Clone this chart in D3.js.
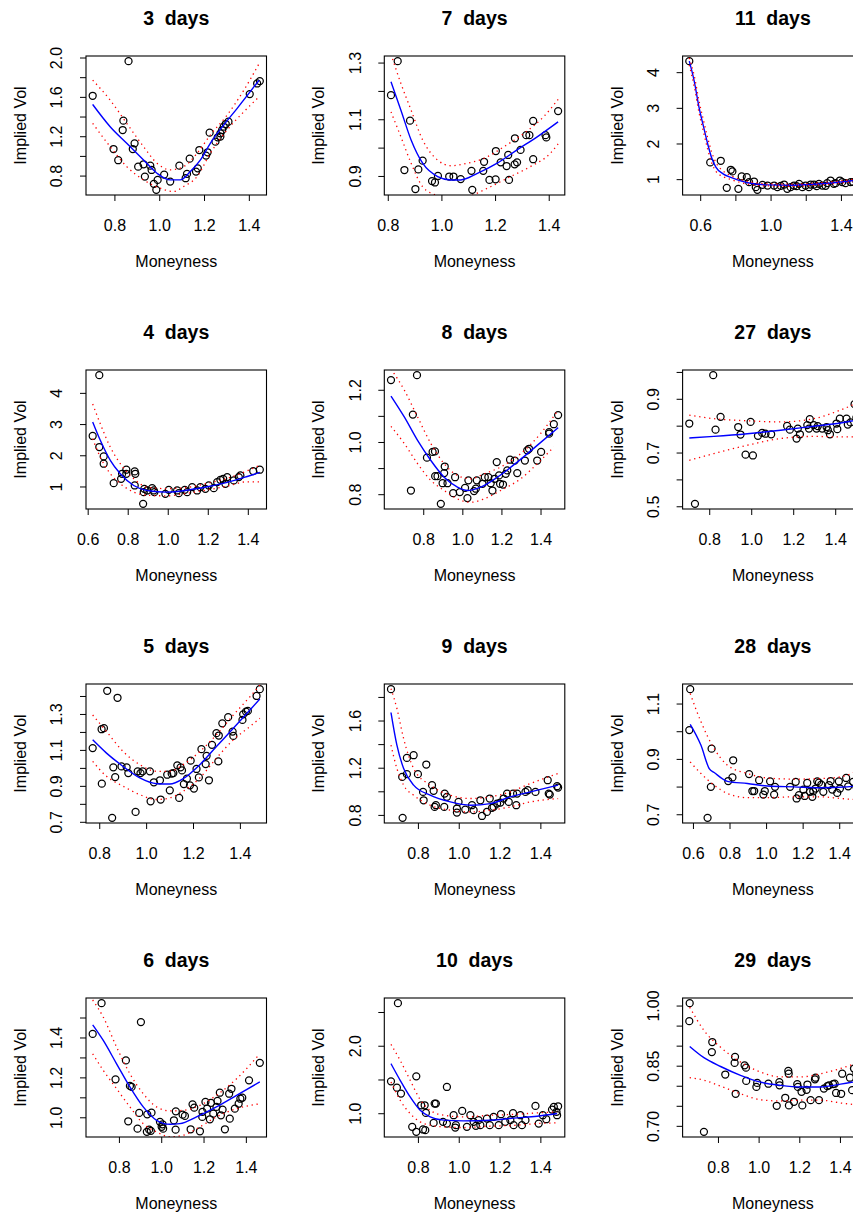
<!DOCTYPE html>
<html>
<head>
<meta charset="utf-8">
<script src="https://cdn.jsdelivr.net/npm/d3@7"></script>
<style>
  body { margin: 0; background: #fff; }
  svg { display: block; }
</style>
</head>
<body>
<script>
// observed implied vols: [moneyness, vol]
const day3Pts = [[0.703,1.611],[0.863,1.963],[0.796,1.070],[0.817,0.956],[0.840,1.358],[0.837,1.263],[0.890,1.128],[0.882,1.070],[0.906,0.891],[0.930,0.915],[0.936,0.790],[0.960,0.901],[0.966,0.857],[0.976,0.716],[0.987,0.655],[0.993,0.756],[1.022,0.810],[1.049,0.739],[1.090,0.901],[1.118,0.773],[1.124,0.817],[1.136,0.972],[1.164,0.841],[1.172,0.874],[1.179,1.060],[1.209,1.003],[1.216,1.037],[1.225,1.236],[1.251,1.145],[1.261,1.189],[1.273,1.229],[1.273,1.196],[1.281,1.263],[1.288,1.297],[1.297,1.324],[1.309,1.348],[1.404,1.628],[1.437,1.736],[1.449,1.760]];
const day3Fit = [[0.703,1.523],[0.781,1.297],[0.855,1.128],[0.930,0.959],[0.990,0.824],[1.049,0.756],[1.094,0.756],[1.139,0.841],[1.184,0.959],[1.228,1.128],[1.288,1.314],[1.348,1.483],[1.446,1.770]];
const day3Up = [[0.703,1.770],[0.781,1.567],[0.855,1.331],[0.930,1.094],[0.990,0.925],[1.049,0.858],[1.109,0.891],[1.169,1.027],[1.228,1.212],[1.303,1.415],[1.378,1.669],[1.446,1.939]];
const day3Lo = [[0.703,1.331],[0.781,1.094],[0.855,0.891],[0.930,0.756],[1.004,0.672],[1.064,0.638],[1.109,0.689],[1.169,0.790],[1.228,1.027],[1.303,1.263],[1.378,1.449],[1.446,1.601]];

const day7Pts = [[0.812,1.185],[0.837,1.305],[0.862,0.921],[0.883,1.095],[0.903,0.854],[0.914,0.923],[0.930,0.954],[0.965,0.882],[0.976,0.877],[0.987,0.900],[1.029,0.898],[1.045,0.898],[1.072,0.889],[1.112,0.918],[1.115,0.851],[1.159,0.950],[1.156,0.918],[1.179,0.886],[1.202,0.888],[1.203,0.988],[1.221,0.948],[1.243,0.935],[1.252,0.886],[1.249,0.974],[1.273,0.941],[1.282,0.948],[1.274,1.033],[1.295,0.992],[1.316,1.044],[1.328,1.044],[1.342,1.094],[1.342,0.959],[1.388,1.044],[1.391,1.036],[1.435,1.129]];
const day7Fit = [[0.812,1.232],[0.849,1.132],[0.887,1.027],[0.930,0.945],[0.986,0.898],[1.035,0.886],[1.072,0.886],[1.134,0.909],[1.208,0.945],[1.282,0.992],[1.357,1.038],[1.435,1.091]];
const day7Up = [[0.812,1.330],[0.849,1.226],[0.887,1.132],[0.930,1.027],[0.986,0.956],[1.035,0.936],[1.097,0.945],[1.159,0.962],[1.233,1.003],[1.307,1.050],[1.381,1.109],[1.435,1.170]];
const day7Lo = [[0.812,1.126],[0.849,1.038],[0.887,0.945],[0.930,0.862],[0.986,0.830],[1.047,0.815],[1.109,0.830],[1.183,0.862],[1.258,0.898],[1.332,0.933],[1.406,0.980],[1.435,1.013]];

const day11Pts = [[0.538,4.309],[0.657,1.469],[0.717,1.516],[0.751,0.756],[0.774,1.263],[0.783,1.216],[0.817,0.728],[0.836,1.075],[0.865,1.056],[0.878,0.916],[0.906,0.934],[0.916,0.775],[0.925,0.700],[0.954,0.841],[0.983,0.822],[1.020,0.822],[1.039,0.775],[1.058,0.812],[1.077,0.850],[1.095,0.728],[1.114,0.775],[1.133,0.822],[1.148,0.803],[1.162,0.869],[1.181,0.775],[1.199,0.822],[1.218,0.775],[1.228,0.850],[1.247,0.850],[1.262,0.803],[1.275,0.869],[1.294,0.822],[1.313,0.812],[1.322,0.888],[1.341,0.962],[1.360,0.869],[1.370,0.888],[1.394,0.962],[1.407,0.916],[1.426,0.888],[1.455,0.916],[1.470,0.920],[1.488,0.950]];
const day11Fit = [[0.538,4.309],[0.566,3.75],[0.594,3.0],[0.620,2.45],[0.642,2.0],[0.665,1.6],[0.689,1.34],[0.730,1.15],[0.774,1.05],[0.869,0.90],[0.982,0.84],[1.133,0.83],[1.284,0.87],[1.398,0.92],[1.525,1.00]];
const day11Up = [[0.538,4.40],[0.566,3.90],[0.594,3.18],[0.620,2.62],[0.642,2.17],[0.665,1.76],[0.689,1.47],[0.730,1.23],[0.774,1.10],[0.869,0.94],[0.982,0.87],[1.133,0.86],[1.284,0.90],[1.398,0.95],[1.525,1.04]];
const day11Lo = [[0.538,4.20],[0.566,3.60],[0.594,2.85],[0.620,2.30],[0.642,1.85],[0.665,1.46],[0.689,1.22],[0.730,1.07],[0.774,0.99],[0.869,0.86],[0.982,0.81],[1.133,0.80],[1.284,0.84],[1.398,0.89],[1.525,0.96]];

const day4Pts = [[0.625,2.618],[0.658,4.568],[0.658,2.264],[0.680,1.964],[0.680,1.729],[0.730,1.107],[0.767,1.246],[0.772,1.407],[0.793,1.536],[0.793,1.407],[0.835,1.032],[0.835,1.482],[0.838,1.407],[0.877,0.443],[0.880,0.818],[0.883,0.925],[0.897,0.871],[0.922,0.946],[0.930,0.871],[0.933,0.818],[0.988,0.764],[1.005,0.893],[1.047,0.871],[1.055,0.786],[1.085,0.893],[1.097,0.818],[1.122,0.979],[1.147,0.871],[1.163,0.979],[1.188,0.925],[1.205,1.032],[1.230,0.946],[1.247,1.139],[1.263,1.214],[1.277,1.246],[1.288,1.086],[1.297,1.300],[1.330,1.193],[1.355,1.300],[1.363,1.354],[1.427,1.493],[1.460,1.536]];
const day4Fit = [[0.625,3.068],[0.663,2.479],[0.713,1.836],[0.763,1.407],[0.830,1.032],[0.897,0.871],[0.997,0.82],[1.097,0.88],[1.197,0.99],[1.297,1.13],[1.397,1.32],[1.460,1.45]];
const day4Up = [[0.625,3.64],[0.663,3.01],[0.713,2.26],[0.763,1.73],[0.830,1.25],[0.897,0.98],[0.997,0.93],[1.097,0.97],[1.197,1.10],[1.297,1.26],[1.397,1.50],[1.460,1.68]];
const day4Lo = [[0.625,2.53],[0.663,1.94],[0.713,1.41],[0.763,1.09],[0.830,0.82],[0.897,0.72],[0.997,0.70],[1.097,0.78],[1.197,0.89],[1.297,1.01],[1.397,1.15],[1.460,1.15]];

const day8Pts = [[0.635,1.237],[0.768,1.256],[0.737,0.814],[0.747,1.105],[0.819,0.940],[0.848,0.962],[0.860,0.964],[0.861,0.869],[0.873,0.869],[0.890,0.763],[0.899,0.842],[0.907,0.881],[0.910,0.906],[0.924,0.842],[0.953,0.804],[0.963,0.865],[0.987,0.808],[1.014,0.824],[1.026,0.785],[1.031,0.853],[1.060,0.812],[1.069,0.821],[1.074,0.853],[1.103,0.840],[1.115,0.865],[1.133,0.865],[1.145,0.842],[1.154,0.814],[1.165,0.859],[1.176,0.923],[1.188,0.872],[1.193,0.840],[1.208,0.837],[1.222,0.878],[1.230,0.891],[1.244,0.932],[1.268,0.929],[1.281,0.881],[1.320,0.929],[1.332,0.968],[1.341,0.974],[1.383,0.929],[1.403,0.962],[1.444,1.032],[1.444,1.038],[1.468,1.068],[1.490,1.103]];
const day8Fit = [[0.635,1.176],[0.703,1.096],[0.771,1.006],[0.839,0.929],[0.907,0.865],[0.975,0.827],[1.026,0.814],[1.094,0.827],[1.179,0.865],[1.281,0.923],[1.383,0.987],[1.490,1.055]];
const day8Up = [[0.635,1.28],[0.703,1.199],[0.771,1.096],[0.839,0.994],[0.907,0.917],[0.975,0.872],[1.043,0.859],[1.111,0.878],[1.196,0.904],[1.298,0.955],[1.400,1.032],[1.490,1.122]];
const day8Lo = [[0.635,1.060],[0.703,0.994],[0.771,0.917],[0.839,0.853],[0.907,0.814],[0.975,0.782],[1.043,0.769],[1.111,0.782],[1.196,0.814],[1.298,0.859],[1.400,0.929],[1.468,0.981]];

const day27Pts = [[0.705,0.808],[0.732,0.509],[0.819,0.988],[0.830,0.785],[0.854,0.833],[0.938,0.795],[0.949,0.767],[0.973,0.692],[0.997,0.814],[1.008,0.689],[1.032,0.762],[1.052,0.773],[1.068,0.770],[1.095,0.768],[1.171,0.799],[1.184,0.785],[1.216,0.752],[1.222,0.789],[1.232,0.768],[1.267,0.802],[1.279,0.824],[1.275,0.789],[1.298,0.802],[1.311,0.789],[1.317,0.798],[1.338,0.789],[1.359,0.795],[1.365,0.783],[1.375,0.768],[1.406,0.808],[1.410,0.787],[1.422,0.826],[1.454,0.826],[1.460,0.804],[1.473,0.812],[1.492,0.880],[1.501,0.830]];
const day27Fit = [[0.705,0.754],[0.822,0.760],[0.981,0.770],[1.140,0.783],[1.298,0.798],[1.425,0.810],[1.532,0.826]];
const day27Up = [[0.705,0.839],[0.822,0.826],[0.981,0.818],[1.140,0.814],[1.298,0.826],[1.425,0.858],[1.532,0.895]];
const day27Lo = [[0.705,0.671],[0.822,0.696],[0.981,0.727],[1.140,0.752],[1.298,0.760],[1.425,0.758],[1.532,0.758]];

const day5Pts = [[0.772,1.110],[0.811,0.912],[0.810,1.215],[0.820,1.221],[0.834,1.429],[0.855,0.722],[0.860,1.003],[0.868,0.949],[0.878,1.390],[0.895,1.008],[0.917,1.003],[0.924,0.971],[0.955,0.755],[0.964,0.981],[0.976,0.971],[0.985,0.981],[1.016,0.981],[1.019,0.814],[1.033,0.920],[1.059,0.931],[1.062,0.824],[1.090,0.962],[1.101,0.875],[1.109,0.968],[1.116,0.971],[1.133,1.014],[1.141,0.833],[1.147,1.003],[1.153,0.986],[1.161,0.910],[1.174,0.940],[1.187,0.903],[1.190,1.040],[1.204,0.885],[1.215,0.994],[1.225,0.947],[1.236,1.104],[1.254,1.021],[1.258,1.067],[1.268,0.931],[1.281,1.128],[1.300,1.193],[1.308,1.036],[1.310,1.180],[1.325,1.248],[1.350,1.282],[1.369,1.202],[1.372,1.178],[1.411,1.267],[1.414,1.298],[1.426,1.313],[1.434,1.317],[1.471,1.400],[1.485,1.438]];
const day5Fit = [[0.772,1.156],[0.831,1.082],[0.902,1.008],[0.973,0.944],[1.045,0.912],[1.101,0.910],[1.158,0.940],[1.229,1.018],[1.300,1.119],[1.372,1.220],[1.443,1.322],[1.485,1.383]];
const day5Up = [[0.772,1.294],[0.831,1.202],[0.902,1.091],[0.973,1.018],[1.045,0.981],[1.101,0.981],[1.158,1.018],[1.229,1.091],[1.300,1.184],[1.372,1.294],[1.443,1.396],[1.485,1.46]];
const day5Lo = [[0.772,1.036],[0.831,0.953],[0.902,0.898],[0.973,0.851],[1.045,0.824],[1.101,0.833],[1.158,0.870],[1.229,0.944],[1.300,1.054],[1.372,1.156],[1.443,1.230],[1.485,1.276]];

const day9Pts = [[0.668,1.866],[0.725,0.775],[0.723,1.122],[0.746,1.283],[0.746,1.145],[0.779,1.306],[0.800,1.145],[0.825,0.995],[0.828,0.924],[0.841,1.227],[0.869,1.052],[0.877,1.004],[0.882,0.868],[0.888,0.882],[0.929,0.868],[0.931,0.981],[0.942,0.953],[0.991,0.854],[0.991,0.820],[0.999,0.910],[1.032,0.845],[1.065,0.882],[1.073,0.840],[1.106,0.924],[1.114,0.791],[1.138,0.825],[1.152,0.939],[1.163,0.859],[1.171,0.868],[1.188,0.896],[1.204,0.905],[1.220,0.939],[1.237,0.981],[1.245,0.910],[1.266,0.981],[1.282,0.882],[1.286,0.981],[1.327,0.995],[1.338,1.009],[1.376,0.995],[1.436,1.094],[1.441,0.981],[1.446,0.972],[1.482,1.043],[1.487,1.032]];
const day9Fit = [[0.668,1.668],[0.697,1.391],[0.730,1.193],[0.779,1.052],[0.860,0.967],[0.959,0.910],[1.057,0.882],[1.155,0.896],[1.253,0.953],[1.351,0.995],[1.487,1.052]];
const day9Up = [[0.668,1.87],[0.697,1.702],[0.730,1.447],[0.779,1.193],[0.860,1.052],[0.959,0.967],[1.057,0.939],[1.155,0.953],[1.253,0.995],[1.351,1.066],[1.487,1.151]];
const day9Lo = [[0.668,1.391],[0.697,1.193],[0.730,1.052],[0.779,0.967],[0.860,0.882],[0.959,0.840],[1.057,0.825],[1.155,0.840],[1.253,0.868],[1.351,0.910],[1.487,0.939]];

const day28Pts = [[0.585,1.152],[0.580,1.004],[0.702,0.937],[0.680,0.687],[0.698,0.799],[0.793,0.820],[0.816,0.833],[0.820,0.895],[0.907,0.845],[0.925,0.784],[0.935,0.784],[0.962,0.823],[0.985,0.771],[0.993,0.784],[1.022,0.819],[1.044,0.771],[1.049,0.799],[1.131,0.799],[1.162,0.817],[1.167,0.757],[1.180,0.769],[1.204,0.789],[1.211,0.766],[1.225,0.813],[1.240,0.781],[1.253,0.763],[1.258,0.783],[1.271,0.793],[1.280,0.819],[1.289,0.814],[1.302,0.807],[1.313,0.781],[1.344,0.805],[1.353,0.820],[1.362,0.789],[1.389,0.777],[1.398,0.819],[1.404,0.793],[1.438,0.831],[1.449,0.801],[1.476,0.817],[1.494,0.800]];
const day28Fit = [[0.585,1.025],[0.644,0.949],[0.689,0.865],[0.716,0.851],[0.789,0.819],[0.898,0.811],[1.007,0.802],[1.153,0.799],[1.298,0.796],[1.444,0.799],[1.529,0.805]];
const day28Up = [[0.585,1.136],[0.644,1.034],[0.716,0.937],[0.789,0.877],[0.898,0.847],[1.007,0.831],[1.153,0.827],[1.298,0.829],[1.407,0.835],[1.529,0.865]];
const day28Lo = [[0.585,0.889],[0.644,0.847],[0.716,0.805],[0.789,0.775],[0.898,0.760],[1.007,0.760],[1.153,0.763],[1.298,0.763],[1.407,0.757],[1.529,0.751]];

const day6Pts = [[0.676,1.418],[0.718,1.572],[0.784,1.190],[0.833,1.285],[0.844,0.980],[0.852,1.157],[0.860,1.152],[0.888,0.943],[0.896,1.022],[0.904,1.477],[0.934,1.015],[0.932,0.927],[0.943,0.938],[0.951,0.932],[0.954,1.023],[0.994,0.977],[1.002,0.952],[1.006,0.965],[1.009,0.943],[1.060,0.985],[1.068,0.938],[1.069,1.030],[1.101,1.013],[1.112,1.007],[1.139,0.940],[1.148,1.065],[1.156,1.048],[1.183,0.930],[1.195,1.027],[1.194,1.002],[1.209,1.077],[1.217,1.043],[1.230,0.990],[1.235,1.072],[1.246,1.018],[1.261,1.052],[1.266,1.082],[1.277,1.123],[1.282,1.010],[1.290,1.038],[1.301,0.940],[1.321,1.118],[1.324,0.993],[1.332,1.143],[1.348,1.043],[1.366,1.068],[1.374,1.093],[1.383,1.098],[1.415,1.185],[1.466,1.273]];
const day6Fit = [[0.676,1.463],[0.726,1.385],[0.789,1.268],[0.852,1.152],[0.915,1.052],[0.978,0.985],[1.041,0.965],[1.088,0.968],[1.167,1.002],[1.261,1.052],[1.356,1.110],[1.466,1.177]];
const day6Up = [[0.676,1.588],[0.726,1.502],[0.789,1.352],[0.852,1.218],[0.915,1.118],[0.978,1.052],[1.041,1.032],[1.104,1.035],[1.183,1.060],[1.261,1.110],[1.356,1.193],[1.466,1.318]];
const day6Lo = [[0.676,1.318],[0.726,1.235],[0.789,1.143],[0.852,1.052],[0.915,0.968],[0.978,0.927],[1.041,0.902],[1.104,0.910],[1.183,0.952],[1.261,1.002],[1.356,1.043],[1.466,1.068]];

const day10Pts = [[0.668,1.473],[0.702,2.631],[0.697,1.379],[0.717,1.291],[0.772,0.798],[0.792,1.547],[0.792,0.724],[0.816,1.118],[0.825,0.759],[0.836,0.749],[0.833,1.118],[0.839,1.005],[0.877,0.857],[0.882,1.143],[0.888,1.143],[0.923,0.872],[0.942,1.389],[0.942,0.847],[0.975,0.970],[0.983,0.788],[0.986,0.823],[1.017,1.034],[1.040,0.798],[1.057,0.970],[1.073,0.872],[1.084,0.813],[1.097,0.897],[1.106,0.823],[1.138,0.921],[1.152,0.823],[1.171,0.946],[1.196,0.823],[1.207,0.985],[1.228,0.872],[1.253,0.897],[1.266,1.000],[1.269,0.823],[1.302,0.970],[1.310,0.823],[1.327,0.897],[1.376,1.108],[1.392,0.847],[1.412,0.970],[1.429,0.911],[1.457,1.054],[1.466,1.094],[1.482,0.970],[1.487,1.103],[1.479,1.020]];
const day10Fit = [[0.668,1.734],[0.713,1.488],[0.762,1.241],[0.811,1.044],[0.860,0.946],[0.926,0.897],[1.024,0.887],[1.155,0.897],[1.286,0.931],[1.384,0.956],[1.482,0.995]];
const day10Up = [[0.668,2.02],[0.713,1.783],[0.762,1.488],[0.811,1.202],[0.860,1.044],[0.926,0.970],[1.024,0.946],[1.155,0.970],[1.286,0.985],[1.384,1.005],[1.482,1.020]];
const day10Lo = [[0.668,1.463],[0.713,1.192],[0.762,0.995],[0.811,0.872],[0.860,0.823],[0.926,0.798],[1.024,0.788],[1.155,0.808],[1.286,0.823],[1.384,0.847],[1.482,0.857]];

const day29Pts = [[0.661,1.006],[0.659,0.961],[0.731,0.685],[0.772,0.909],[0.770,0.884],[0.836,0.828],[0.884,0.872],[0.882,0.857],[0.887,0.780],[0.931,0.851],[0.938,0.845],[0.939,0.812],[0.989,0.797],[0.993,0.807],[1.048,0.805],[1.089,0.750],[1.102,0.809],[1.103,0.801],[1.131,0.770],[1.146,0.837],[1.148,0.830],[1.149,0.751],[1.174,0.760],[1.190,0.804],[1.193,0.797],[1.211,0.785],[1.215,0.751],[1.236,0.790],[1.240,0.803],[1.256,0.764],[1.277,0.816],[1.280,0.820],[1.297,0.764],[1.321,0.793],[1.338,0.799],[1.346,0.801],[1.366,0.804],[1.374,0.805],[1.381,0.782],[1.406,0.780],[1.411,0.830],[1.449,0.820],[1.460,0.789],[1.469,0.843],[1.481,0.830]];
const day29Fit = [[0.661,0.898],[0.731,0.870],[0.813,0.848],[0.911,0.826],[1.010,0.809],[1.108,0.801],[1.207,0.797],[1.305,0.797],[1.403,0.804],[1.513,0.814]];
const day29Up = [[0.661,0.996],[0.731,0.938],[0.813,0.896],[0.911,0.859],[1.010,0.834],[1.108,0.822],[1.207,0.822],[1.305,0.830],[1.403,0.843],[1.513,0.863]];
const day29Lo = [[0.661,0.820],[0.731,0.814],[0.813,0.799],[0.911,0.780],[1.010,0.765],[1.108,0.762],[1.207,0.764],[1.305,0.764],[1.403,0.757],[1.513,0.751]];

// tick values and their labels ("" = tick without label)
const xTicks = [0.8, 1.0, 1.2, 1.4];
const xLabels = ["0.8", "1.0", "1.2", "1.4"];
const xTicksWide = [0.6, 0.8, 1.0, 1.2, 1.4];
const xLabelsWide = ["0.6", "0.8", "1.0", "1.2", "1.4"];
const xLabels11 = ["0.6", "", "1.0", "", "1.4"];

const yTicks3 = [0.8, 1.0, 1.2, 1.4, 1.6, 1.8, 2.0], yLabels3 = ["0.8", "", "1.2", "", "1.6", "", "2.0"];
const yTicks7 = [0.9, 1.0, 1.1, 1.2, 1.3], yLabels7 = ["0.9", "", "1.1", "", "1.3"];
const yTicksInt = [1, 2, 3, 4], yLabelsInt = ["1", "2", "3", "4"];
const yTicks8 = [0.8, 0.9, 1.0, 1.1, 1.2], yLabels8 = ["0.8", "", "1.0", "", "1.2"];
const yTicks27 = [0.5, 0.6, 0.7, 0.8, 0.9, 1.0], yLabels27 = ["0.5", "", "0.7", "", "0.9", ""];
const yTicks5 = [0.7, 0.8, 0.9, 1.0, 1.1, 1.2, 1.3, 1.4], yLabels5 = ["0.7", "", "0.9", "", "1.1", "", "1.3", ""];
const yTicks9 = [0.8, 1.0, 1.2, 1.4, 1.6, 1.8], yLabels9 = ["0.8", "", "1.2", "", "1.6", ""];
const yTicks28 = [0.7, 0.8, 0.9, 1.0, 1.1], yLabels28 = ["0.7", "", "0.9", "", "1.1"];
const yTicks6 = [1.0, 1.1, 1.2, 1.3, 1.4, 1.5], yLabels6 = ["1.0", "", "1.2", "", "1.4", ""];
const yTicks10 = [1.0, 1.5, 2.0, 2.5], yLabels10 = ["1.0", "", "2.0", ""];
const yTicks29 = [0.70, 0.75, 0.80, 0.85, 0.90, 0.95, 1.00], yLabels29 = ["0.70", "", "", "0.85", "", "", "1.00"];

const panels = [
    { days: 3, pts: day3Pts, fit: day3Fit, up: day3Up, lo: day3Lo, xt: xTicks, xl: xLabels, yt: yTicks3, yl: yLabels3 },
    { days: 7, pts: day7Pts, fit: day7Fit, up: day7Up, lo: day7Lo, xt: xTicks, xl: xLabels, yt: yTicks7, yl: yLabels7 },
    { days: 11, pts: day11Pts, fit: day11Fit, up: day11Up, lo: day11Lo, xt: xTicksWide, xl: xLabels11, yt: yTicksInt, yl: yLabelsInt },
    { days: 4, pts: day4Pts, fit: day4Fit, up: day4Up, lo: day4Lo, xt: xTicksWide, xl: xLabelsWide, yt: yTicksInt, yl: yLabelsInt },
    { days: 8, pts: day8Pts, fit: day8Fit, up: day8Up, lo: day8Lo, xt: xTicks, xl: xLabels, yt: yTicks8, yl: yLabels8 },
    { days: 27, pts: day27Pts, fit: day27Fit, up: day27Up, lo: day27Lo, xt: xTicks, xl: xLabels, yt: yTicks27, yl: yLabels27 },
    { days: 5, pts: day5Pts, fit: day5Fit, up: day5Up, lo: day5Lo, xt: xTicks, xl: xLabels, yt: yTicks5, yl: yLabels5 },
    { days: 9, pts: day9Pts, fit: day9Fit, up: day9Up, lo: day9Lo, xt: xTicks, xl: xLabels, yt: yTicks9, yl: yLabels9 },
    { days: 28, pts: day28Pts, fit: day28Fit, up: day28Up, lo: day28Lo, xt: xTicksWide, xl: xLabelsWide, yt: yTicks28, yl: yLabels28 },
    { days: 6, pts: day6Pts, fit: day6Fit, up: day6Up, lo: day6Lo, xt: xTicks, xl: xLabels, yt: yTicks6, yl: yLabels6 },
    { days: 10, pts: day10Pts, fit: day10Fit, up: day10Up, lo: day10Lo, xt: xTicks, xl: xLabels, yt: yTicks10, yl: yLabels10 },
    { days: 29, pts: day29Pts, fit: day29Fit, up: day29Up, lo: day29Lo, xt: xTicks, xl: xLabels, yt: yTicks29, yl: yLabels29 }
];

const FONT = "'Liberation Sans', Arial, Helvetica, sans-serif";
const plotW = 180.5, plotH = 139;
const colX = [86, 384.3, 682.6], rowY = [56, 370, 684, 998];

const svg = d3.select("body").append("svg")
    .attr("width", 853)
    .attr("height", 1216)
    .style("font-family", FONT);

svg.append("rect").attr("width", 853).attr("height", 1216).attr("fill", "#fff");

panels.forEach(function(p, i) {
    const left = colX[i % 3], top = rowY[Math.floor(i / 3)];

    // R style limits: data range plus 4% each side
    const xe = d3.extent(p.pts, d => d[0]), ye = d3.extent(p.pts, d => d[1]);
    const xpad = (xe[1] - xe[0]) * 0.04, ypad = (ye[1] - ye[0]) * 0.04;
    const x = d3.scaleLinear().domain([xe[0] - xpad, xe[1] + xpad]).range([0, plotW]);
    const y = d3.scaleLinear().domain([ye[0] - ypad, ye[1] + ypad]).range([plotH, 0]);

    const g = svg.append("g").attr("transform", "translate(" + left + "," + top + ")");

    g.append("clipPath").attr("id", "clip" + i)
        .append("rect").attr("width", plotW).attr("height", plotH);

    const xAxis = d3.axisBottom(x).tickValues(p.xt).tickSize(6).tickSizeOuter(0)
        .tickFormat((d, k) => p.xl[k]);
    const gx = g.append("g").attr("transform", "translate(0," + plotH + ")").call(xAxis);
    gx.select(".domain").remove();
    gx.selectAll("line").attr("stroke", "#000");
    gx.selectAll("text")
        .attr("y", 35.5).attr("dy", 0)
        .attr("fill", "#000").style("font-size", "16px").style("font-family", FONT);

    const yAxis = d3.axisLeft(y).tickValues(p.yt).tickSize(6).tickSizeOuter(0)
        .tickFormat((d, k) => p.yl[k]);
    const gy = g.append("g").call(yAxis);
    gy.select(".domain").remove();
    gy.selectAll("line").attr("stroke", "#000");
    gy.selectAll("text")
        .attr("x", 0).attr("y", -23.7).attr("dy", 0)
        .attr("transform", "rotate(-90)")
        .attr("text-anchor", "middle")
        .attr("fill", "#000").style("font-size", "16px").style("font-family", FONT);

    const line = d3.line()
        .x(d => x(d[0]))
        .y(d => y(d[1]))
        .curve(d3.curveMonotoneX);

    const inner = g.append("g").attr("clip-path", "url(#clip" + i + ")");

    inner.selectAll(".pt")
        .data(p.pts)
        .enter()
        .append("circle")
        .attr("class", "pt")
        .attr("cx", d => x(d[0]))
        .attr("cy", d => y(d[1]))
        .attr("r", 3.5)
        .attr("fill", "none")
        .attr("stroke", "#000")
        .attr("stroke-width", 1.25);

    inner.append("path").datum(p.fit)
        .attr("d", line)
        .attr("fill", "none")
        .attr("stroke", "#0000ff")
        .attr("stroke-width", 1.4);

    [p.up, p.lo].forEach(function(band) {
        inner.append("path").datum(band)
            .attr("d", line)
            .attr("fill", "none")
            .attr("stroke", "#ff0000")
            .attr("stroke-width", 1.3)
            .attr("stroke-dasharray", "1.3,3.7");
    });

    g.append("rect")
        .attr("width", plotW).attr("height", plotH)
        .attr("fill", "none").attr("stroke", "#000").attr("stroke-width", 1.1);

    g.append("text")
        .attr("x", plotW / 2).attr("y", -31)
        .attr("text-anchor", "middle")
        .style("font-weight", "bold").style("font-size", "19.5px")
        .style("white-space", "pre")
        .text(p.days + "  days");

    g.append("text")
        .attr("x", plotW / 2).attr("y", plotH + 72)
        .attr("text-anchor", "middle")
        .style("font-size", "16px")
        .text("Moneyness");

    g.append("text")
        .attr("transform", "rotate(-90)")
        .attr("x", -plotH / 2).attr("y", -60)
        .attr("text-anchor", "middle")
        .style("font-size", "16px")
        .text("Implied Vol");
});
</script>
</body>
</html>
